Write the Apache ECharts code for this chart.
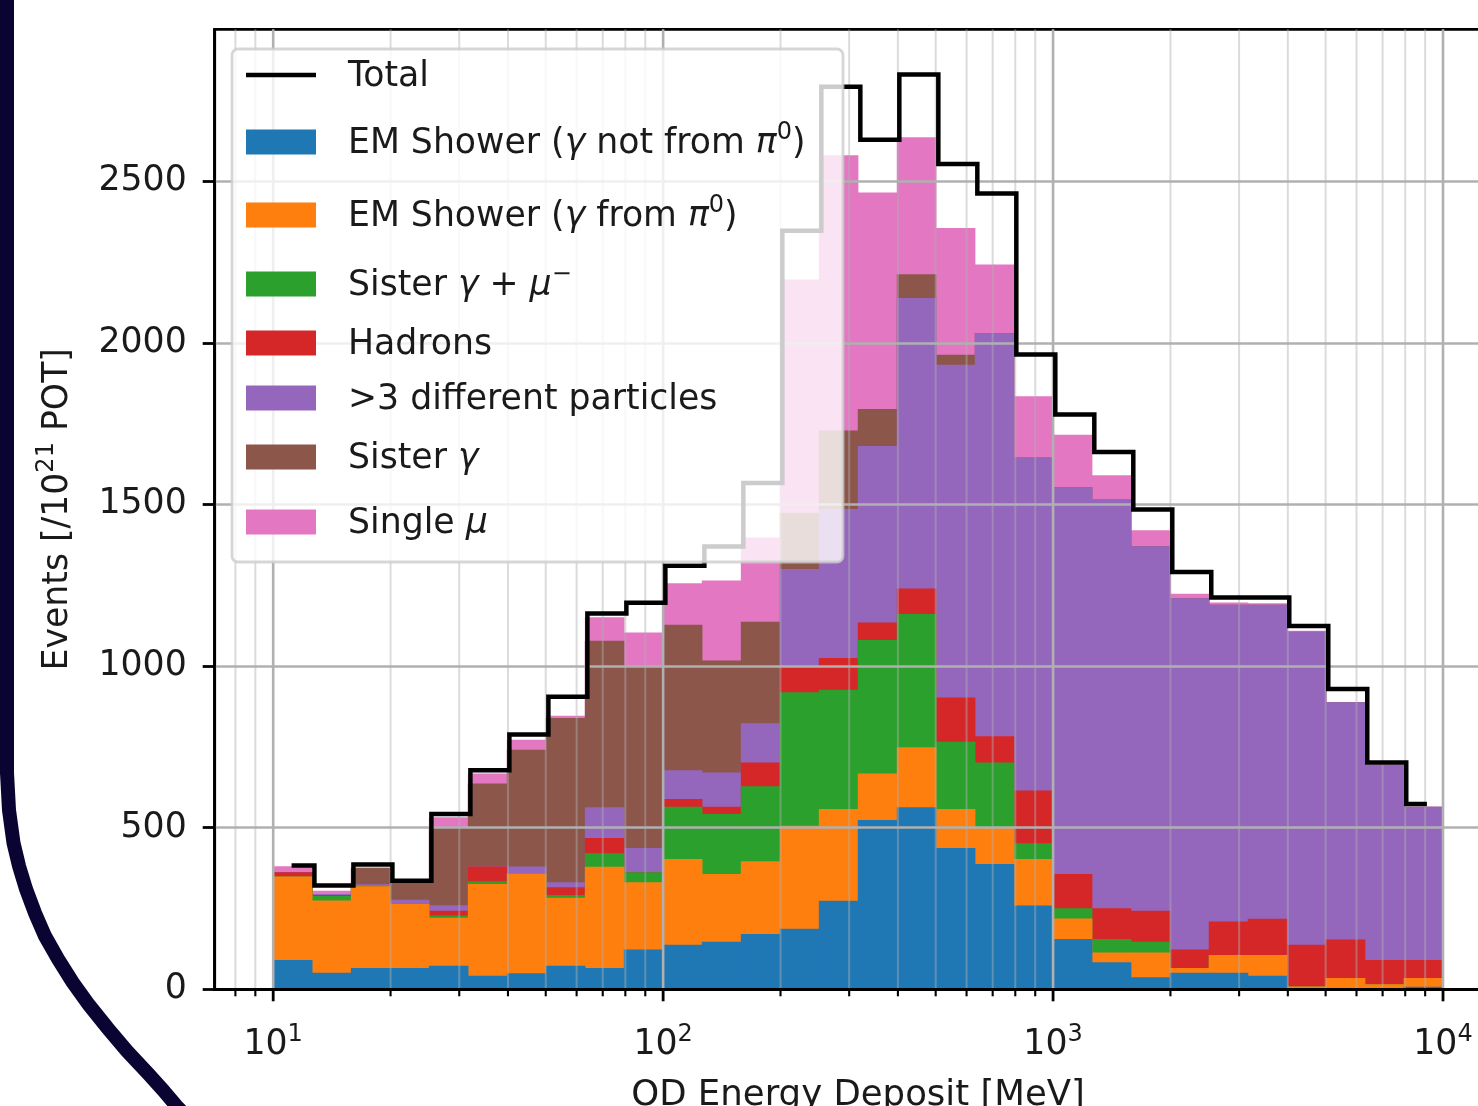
<!DOCTYPE html>
<html>
<head>
<meta charset="utf-8">
<script src="https://cdn.jsdelivr.net/npm/echarts@6/dist/echarts.min.js"></script>
<style>
html,body{margin:0;padding:0;background:#ffffff;}
#chart{width:1478px;height:1106px;}
</style>
</head>
<body>
<div id="chart"></div>
<script>
// ---------------- data ----------------
const binEdges = [10, 12.59, 15.85, 19.95, 25.12, 31.62, 39.81, 50.12, 63.10, 79.43,
  100, 125.9, 158.5, 199.5, 251.2, 316.2, 398.1, 501.2, 631.0, 794.3,
  1000, 1259, 1585, 1995, 2512, 3162, 3981, 5012, 6310, 7943, 10000];

const categoryNames = ['EM Shower (γ not from π0)', 'EM Shower (γ from π0)', 'Sister γ + μ−',
  'Hadrons', '>3 different particles', 'Sister γ', 'Single μ'];
const categoryColors = ['#1f77b4', '#ff7f0e', '#2ca02c', '#d62728', '#9467bd', '#8c564b', '#e377c2'];

const emNotPi0 = [91, 51, 66, 66, 73, 42, 50, 73, 66, 123, 138, 147, 171, 187, 274, 524, 563, 437, 388, 259, 156, 84, 37, 51, 51, 42, 2, 1, 3, 8];
const emPi0 = [258, 224, 253, 199, 148, 284, 308, 210, 313, 208, 265, 210, 225, 319, 284, 144, 186, 121, 113, 144, 63, 30, 77, 15, 55, 64, 7, 34, 13, 27];
const sisterGammaMu = [0, 14, 0, 0, 7, 8, 0, 9, 42, 31, 162, 185, 232, 413, 369, 413, 412, 208, 201, 49, 32, 42, 33, 0, 0, 0, 0, 0, 0, 0];
const hadrons = [13, 3, 0, 0, 15, 46, 0, 24, 47, 0, 24, 23, 74, 79, 98, 54, 79, 137, 81, 163, 106, 95, 96, 57, 104, 112, 129, 119, 75, 56];
const multiParticles = [0, 3, 6, 12, 17, 0, 22, 15, 95, 75, 89, 106, 121, 302, 461, 546, 899, 1029, 1247, 1030, 1196, 1264, 1128, 1087, 980, 972, 968, 734, 604, 474];
const sisterGamma = [0, 0, 51, 55, 241, 257, 361, 508, 515, 561, 450, 346, 314, 174, 243, 114, 73, 31, 0, 0, 0, 0, 0, 0, 0, 0, 0, 0, 0, 0];
const singleMu = [19, 10, 0, 0, 31, 31, 31, 7, 73, 106, 128, 248, 261, 722, 851, 670, 424, 392, 212, 190, 163, 75, 49, 14, 7, 4, 3, 0, 0, 0];
const totalEvents = [383, 321, 386, 336, 542, 678, 788, 905, 1163, 1196, 1310, 1370, 1566, 2347, 2792, 2628, 2830, 2553, 2462, 1964, 1778, 1662, 1484, 1291, 1212, 1212, 1124, 929, 702, 573];

const yTicks = [0, 500, 1000, 1500, 2000, 2500];
const xMajorTicks = [10, 100, 1000, 10000];
const xMinorTicks = [8, 9, 20, 30, 40, 50, 60, 70, 80, 90, 200, 300, 400, 500, 600, 700, 800, 900,
  2000, 3000, 4000, 5000, 6000, 7000, 8000, 9000];
const xRange = [7.0795, 14125.4];
const yRange = [0, 2970];

// ---------------- build ----------------
const FONT = 'DejaVu Sans';
const FS = 34.7;
const categories = [emNotPi0, emPi0, sisterGammaMu, hadrons, multiParticles, sisterGamma, singleMu];
const nBins = binEdges.length - 1;

const cumulative = [];
categories.forEach((arr, k) => {
  cumulative.push(arr.map((v, i) => v + (k > 0 ? cumulative[k - 1][i] : 0)));
});

function barRender(color) {
  return function (params, api) {
    const x0 = api.value(0), x1 = api.value(1), top = api.value(2);
    if (!(top > 0)) return null;
    const p0 = api.coord([x0, 0]);
    const p1 = api.coord([x1, top]);
    return {
      type: 'rect',
      shape: { x: p0[0] - 0.3, y: p1[1], width: p1[0] - p0[0] + 0.6, height: p0[1] - p1[1] },
      style: { fill: color }
    };
  };
}

const barSeries = [];
for (let k = categories.length - 1; k >= 0; k--) {
  const data = [];
  for (let i = 0; i < nBins; i++) data.push([binEdges[i], binEdges[i + 1], cumulative[k][i]]);
  barSeries.push({
    type: 'custom', name: categoryNames[k], z: 2, silent: true,
    encode: { x: [0, 1], y: 2 },
    data: data,
    renderItem: barRender(categoryColors[k])
  });
}

const centres = [];
for (let i = 0; i < nBins; i++) centres.push((binEdges[i] + binEdges[i + 1]) / 2);
const totalPts = [[centres[0], totalEvents[0]]];
for (let i = 0; i < nBins - 1; i++) {
  const m = (centres[i] + centres[i + 1]) / 2;
  totalPts.push([m, totalEvents[i]]);
  totalPts.push([m, totalEvents[i + 1]]);
}
totalPts.push([centres[nBins - 1], totalEvents[nBins - 1]]);

const gridData = xMajorTicks.map(v => [v, 0, 1]).concat(xMinorTicks.map(v => [v, 0, 0]));
const gridSeries = {
  type: 'custom', z: 3, silent: true,
  encode: { x: 0, y: 1 },
  data: gridData,
  renderItem: function (params, api) {
    const v = api.value(0), major = api.value(2) === 1;
    const top = api.coord([v, yRange[1]]);
    const bot = api.coord([v, 0]);
    return {
      type: 'group',
      children: [
        { type: 'line', shape: { x1: bot[0], y1: top[1], x2: bot[0], y2: bot[1] },
          style: { stroke: major ? '#b0b0b0' : 'rgba(176,176,176,0.45)', lineWidth: major ? 2.6 : 2 } },
        { type: 'line', shape: { x1: bot[0], y1: bot[1], x2: bot[0], y2: bot[1] + (major ? 12 : 7) },
          style: { stroke: '#000', lineWidth: major ? 2.8 : 2.1 } }
      ]
    };
  }
};

const legendItems = [
  { text: 'Total', y: 75, line: true },
  { text: 'EM Shower ({i|γ} not from {i|π}{sup|0})', y: 142, color: categoryColors[0] },
  { text: 'EM Shower ({i|γ} from {i|π}{sup|0})', y: 215, color: categoryColors[1] },
  { text: 'Sister {i|γ} + {i|μ}{sup|−}', y: 284, color: categoryColors[2] },
  { text: 'Hadrons', y: 343, color: categoryColors[3] },
  { text: '>3 different particles', y: 398, color: categoryColors[4] },
  { text: 'Sister {i|γ}', y: 457, color: categoryColors[5] },
  { text: 'Single {i|μ}', y: 522, color: categoryColors[6] }
];
const richText = {
  i: { fontFamily: FONT, fontStyle: 'italic', fontSize: FS, lineHeight: 46, fill: '#1a1a1a' },
  sup: { fontFamily: FONT, fontSize: 24, lineHeight: 24, verticalAlign: 'top', fill: '#1a1a1a' }
};
const graphics = [
  { type: 'rect', z: 100, silent: true,
    shape: { x: 232, y: 49, width: 611, height: 513, r: 6 },
    style: { fill: 'rgba(255,255,255,0.8)', stroke: 'rgba(204,204,204,0.8)', lineWidth: 2.8 } }
];
legendItems.forEach(it => {
  if (it.line) {
    graphics.push({ type: 'line', z: 101, silent: true,
      shape: { x1: 246, y1: it.y, x2: 316, y2: it.y },
      style: { stroke: '#000', lineWidth: 4.5 } });
  } else {
    graphics.push({ type: 'rect', z: 101, silent: true,
      shape: { x: 246, y: it.y - 12.5, width: 70, height: 25 },
      style: { fill: it.color } });
  }
  graphics.push({ type: 'text', z: 101, silent: true,
    style: { text: it.text, x: 348, y: it.y + 2, fontFamily: FONT, fontSize: FS, lineHeight: 46,
      fill: '#1a1a1a', verticalAlign: 'middle', align: 'left', rich: richText } });
});
graphics.push({ type: 'polyline', z: 200, silent: true,
  shape: { points: [[7, -10], [7, 773], [9, 810], [13.5, 843], [19, 866], [26, 889], [35, 913], [45, 936],
    [58, 959], [72.5, 982], [89, 1005], [107.5, 1028], [127, 1051], [148.5, 1074], [163, 1090],
    [176.5, 1106], [192, 1122]] },
  style: { stroke: '#0a0433', lineWidth: 14, fill: null } });

function isPow10(v) {
  const e = Math.log10(v);
  return Math.abs(e - Math.round(e)) < 1e-6;
}

const option = {
  animation: false,
  backgroundColor: '#ffffff',
  grid: { left: 214.7, top: 29.3, right: -23.5, bottom: 116.7, show: true,
    outerBoundsMode: 'none', containLabel: false,
    borderColor: '#000', borderWidth: 2.8, backgroundColor: 'transparent' },
  xAxis: {
    type: 'log', logBase: 10, min: xRange[0], max: xRange[1], z: 3,
    axisLine: { show: true, onZero: false, lineStyle: { color: '#000', width: 2.8 } },
    axisTick: { show: false }, minorTick: { show: false },
    splitLine: { show: false }, minorSplitLine: { show: false },
    axisLabel: {
      show: true, margin: 33, showMinLabel: false, showMaxLabel: false, hideOverlap: false,
      fontFamily: FONT, fontSize: FS, color: '#1a1a1a', lineHeight: 46,
      formatter: function (v) {
        if (!isPow10(v)) return '';
        return '10{sup|' + Math.round(Math.log10(v)) + '}';
      },
      rich: { sup: { fontFamily: FONT, fontSize: 24, lineHeight: 24, verticalAlign: 'top', color: '#1a1a1a' } }
    },
    name: 'OD Energy Deposit [MeV]', nameLocation: 'middle', nameGap: 88,
    nameTextStyle: { fontFamily: FONT, fontSize: 35.5, color: '#1a1a1a' }
  },
  yAxis: {
    type: 'value', min: yRange[0], max: yRange[1], interval: 500, z: 3,
    axisLine: { show: true, lineStyle: { color: '#000', width: 2.8 } },
    axisTick: { show: true, length: 12, customValues: yTicks, lineStyle: { color: '#000', width: 2.8 } },
    axisLabel: { show: true, margin: 28, customValues: yTicks, fontFamily: FONT, fontSize: FS, color: '#1a1a1a',
      formatter: function (v) { return (v % 500 === 0 && v <= 2500) ? String(v) : ''; } },
    splitLine: { show: true, showMinLine: true, showMaxLine: true, lineStyle: { color: '#b0b0b0', width: 2.6 } },
    name: 'Events [/10{sup|21} POT]', nameLocation: 'middle', nameGap: 134,
    nameTextStyle: { fontFamily: FONT, fontSize: FS, color: '#1a1a1a', lineHeight: 46,
      rich: { sup: { fontFamily: FONT, fontSize: 24, lineHeight: 24, verticalAlign: 'top', color: '#1a1a1a' } } }
  },
  series: barSeries.concat([
    gridSeries,
    { type: 'line', name: 'Total', z: 5, silent: true, data: totalPts, showSymbol: false, symbol: 'none',
      lineStyle: { color: '#000', width: 4.5, cap: 'square', join: 'miter' } }
  ]),
  graphic: graphics
};

const chart = echarts.init(document.getElementById('chart'), null, { renderer: 'canvas' });
chart.setOption(option);
</script>
</body>
</html>
